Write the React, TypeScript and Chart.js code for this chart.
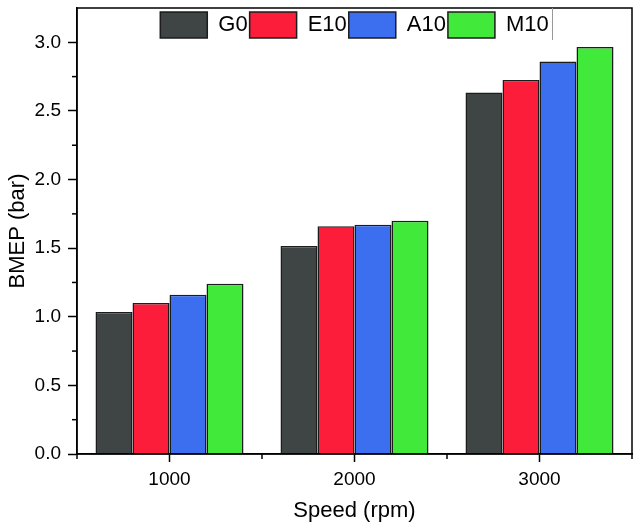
import React, { useRef, useEffect } from 'react';
import { Chart, registerables } from 'chart.js';

Chart.register(...registerables);

const speeds = ['1000', '2000', '3000'];
const seriesNames = ['G0', 'E10', 'A10', 'M10'];
const g0Values = [1.035, 1.515, 2.635];
const e10Values = [1.10, 1.66, 2.725];
const a10Values = [1.16, 1.67, 2.86];
const m10Values = [1.24, 1.70, 2.965];
const seriesColors = ['#3f4544', '#fb1d3a', '#3b6ff0', '#40e93a'];
const yMajorTicks = [0, 0.5, 1.0, 1.5, 2.0, 2.5, 3.0];
const yMinorTicks = [0.25, 0.75, 1.25, 1.75, 2.25, 2.75];

const FONT = '"Liberation Sans", Arial, sans-serif';

// frame round the plot, minor ticks, legend moved inside the plot
const framePlugin = {
    id: 'frame',
    afterLayout(chart: any) {
        const legend = chart.legend;
        const area = chart.chartArea;
        if (legend) {
            legend.left = area.left;
            legend.right = area.right;
            legend.width = area.right - area.left;
            legend.top = 10;
            legend.bottom = 48;
            legend.height = 38;
        }
    },
    afterDraw(chart: any) {
        const ctx = chart.ctx;
        const { left, right, top, bottom } = chart.chartArea;
        const yScale = chart.scales.y;
        const xScale = chart.scales.x;
        ctx.save();
        ctx.strokeStyle = '#000';
        ctx.lineWidth = 1.5;
        // minor y ticks
        yMinorTicks.forEach(v => {
            const py = yScale.getPixelForValue(v);
            ctx.beginPath();
            ctx.moveTo(left - 5, py);
            ctx.lineTo(left, py);
            ctx.stroke();
        });
        // minor x ticks between categories
        for (let i = 0; i <= speeds.length; i++) {
            const px = xScale.getPixelForValue(i - 0.5);
            ctx.beginPath();
            ctx.moveTo(px, bottom);
            ctx.lineTo(px, bottom + 5);
            ctx.stroke();
        }
        ctx.strokeRect(left, top, right - left, bottom - top);
        // thin line at the end of the legend
        const boxes = chart.legend?.legendHitBoxes;
        if (boxes && boxes.length) {
            const last = boxes[boxes.length - 1];
            const lx = Math.round(last.left + last.width + 3) + 0.5;
            ctx.strokeStyle = '#999';
            ctx.lineWidth = 1;
            ctx.beginPath();
            ctx.moveTo(lx, top);
            ctx.lineTo(lx, 40);
            ctx.stroke();
        }
        ctx.restore();
    },
};

const BmepChart: React.FC = () => {
    const chartRef = useRef<HTMLCanvasElement>(null);
    const chartInstance = useRef<Chart | null>(null);

    useEffect(() => {
        if (chartInstance.current) {
            chartInstance.current.destroy();
        }
        const ctx = chartRef.current?.getContext('2d');
        if (!ctx) return;

        const values = [g0Values, e10Values, a10Values, m10Values];

        chartInstance.current = new Chart(ctx, {
            type: 'bar',
            data: {
                labels: speeds,
                datasets: seriesNames.map((name, i) => ({
                    label: name,
                    data: values[i],
                    backgroundColor: seriesColors[i],
                    borderColor: '#1c1c1c',
                    borderWidth: 1.5,
                    barPercentage: 1.0,
                    categoryPercentage: 0.8,
                })),
            },
            options: {
                animation: false,
                responsive: true,
                maintainAspectRatio: false,
                layout: { padding: { top: 8, right: 8, bottom: 0, left: 0 } },
                plugins: {
                    tooltip: { enabled: false },
                    legend: {
                        position: 'top',
                        maxHeight: 0.0001,
                        labels: {
                            boxWidth: 47,
                            boxHeight: 26,
                            padding: 2,
                            color: '#000',
                            font: { size: 22, family: FONT },
                        },
                    },
                },
                scales: {
                    x: {
                        afterFit: (s: any) => {
                            s.height = 76;
                            s.paddingLeft = 0;
                            s.paddingRight = 0;
                        },
                        border: { color: '#000', width: 1.5 },
                        grid: {
                            drawOnChartArea: false,
                            offset: false,
                            tickLength: 8,
                            tickWidth: 1.5,
                            tickColor: '#000',
                        },
                        ticks: {
                            padding: 6,
                            color: '#000',
                            font: { size: 19, family: FONT },
                        },
                        title: {
                            display: true,
                            text: 'Speed (rpm)',
                            color: '#000',
                            font: { size: 22, family: FONT },
                            padding: { top: 0, bottom: 6 },
                        },
                    },
                    y: {
                        min: 0,
                        max: 3.25,
                        afterFit: (s: any) => {
                            s.width = 77;
                            s.paddingTop = 0;
                            s.paddingBottom = 0;
                        },
                        afterBuildTicks: (s: any) => {
                            s.ticks = yMajorTicks.map(v => ({ value: v }));
                        },
                        border: { color: '#000', width: 1.5 },
                        grid: {
                            drawOnChartArea: false,
                            tickLength: 9,
                            tickWidth: 1.5,
                            tickColor: '#000',
                        },
                        ticks: {
                            padding: 7,
                            color: '#000',
                            font: { size: 19, family: FONT },
                            callback: (v: any) => Number(v).toFixed(1),
                        },
                        title: {
                            display: true,
                            text: 'BMEP (bar)',
                            color: '#000',
                            font: { size: 22, family: FONT },
                            padding: { top: 5, bottom: 0 },
                        },
                    },
                },
            },
            plugins: [framePlugin],
        } as any);

        return () => {
            chartInstance.current?.destroy();
        };
    }, []);

    return (
        <div style={{ position: 'fixed', left: 0, top: 0, width: 640, height: 530, background: '#fff' }}>
            <canvas ref={chartRef}></canvas>
        </div>
    );
};

export default function App() {
    return <BmepChart />;
}
